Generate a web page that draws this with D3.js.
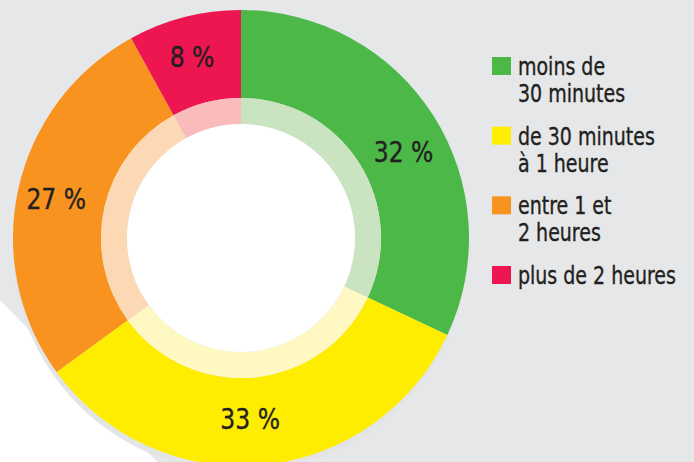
<!DOCTYPE html>
<html>
<head>
<meta charset="utf-8">
<script src="https://cdn.jsdelivr.net/npm/d3@7"></script>
<style>
  html, body { margin: 0; padding: 0; background: #e6e7e8; }
  svg { display: block; }
  text { font-family: "DejaVu Sans Condensed", "Liberation Sans Narrow", "Roboto", sans-serif; fill: #231f20; stroke: #231f20; stroke-width: 0.35px; }
</style>
</head>
<body>
<svg id="chart" width="694" height="462"></svg>
<script>
// ---- data ----
const categories = ["moins de 30 minutes", "de 30 minutes à 1 heure", "entre 1 et 2 heures", "plus de 2 heures"];
const legendLines = [["moins de", "30 minutes"], ["de 30 minutes", "à 1 heure"], ["entre 1 et", "2 heures"], ["plus de 2 heures"]];
const values = [32, 33, 27, 8];
const valueLabels = ["32 %", "33 %", "27 %", "8 %"];
const colors = ["#4cb848", "#ffed00", "#f7931e", "#ed1651"];
const lightColors = ["#cae4c2", "#fff8c2", "#fdd8b4", "#f9bbbb"];

// ---- layout ----
const W = 694, H = 462;
const cx = 241, cy = 238;
const R = 228, rRing = 140, rHole = 114;
const labelRadius = [184, 181, 189, 188];
const labelNudge = [4.5, 2.5, -0.5, -0.7]; // degrees

const svg = d3.select("#chart");

// white page area lower-left
svg.append("path")
  .attr("d", d3.line()([[0, 300], [330, 640], [0, 640]]) + "Z")
  .attr("fill", "#ffffff");

const g = svg.append("g").attr("transform", `translate(${cx},${cy})`);

// shadow
g.append("circle").attr("cx", -1).attr("cy", 6).attr("r", R).attr("fill", "#e3e4e6");

const pie = d3.pie().sort(null).value(d => d)(values);

const outerArc = d3.arc().innerRadius(rRing).outerRadius(R);
const ringArc = d3.arc().innerRadius(rHole).outerRadius(rRing);

g.selectAll("path.outer").data(pie).join("path")
  .attr("class", "outer")
  .attr("d", outerArc)
  .attr("fill", (d, i) => colors[i]);

g.selectAll("path.ring").data(pie).join("path")
  .attr("class", "ring")
  .attr("d", ringArc)
  .attr("fill", (d, i) => lightColors[i]);

g.append("circle").attr("r", rHole).attr("fill", "#ffffff");

// value labels
const midA = (d, i) => (d.startAngle + d.endAngle) / 2 + labelNudge[i] * Math.PI / 180;
g.selectAll("text.val").data(pie).join("text")
  .attr("class", "val")
  .attr("text-anchor", "middle")
  .attr("font-size", 29)
  .attr("dy", "0.36em")
  .attr("transform", (d, i) => `translate(${labelRadius[i] * Math.sin(midA(d, i))},${-labelRadius[i] * Math.cos(midA(d, i))}) scale(0.9,1)`)
  .text((d, i) => valueLabels[i]);

// legend
const legY = d3.scalePoint().domain(categories).range([57, 266]);
const leg = svg.append("g");
categories.forEach((c, i) => {
  const y0 = legY(c);
  leg.append("rect").attr("x", 492).attr("y", y0).attr("width", 19).attr("height", 18).attr("fill", colors[i]);
  const t = leg.append("text")
    .attr("transform", `translate(518,${y0 + 18}) scale(0.845,1)`)
    .attr("font-size", 25);
  legendLines[i].forEach((line, j) => {
    t.append("tspan").attr("x", 0).attr("y", j * 27).text(line);
  });
});
</script>
</body>
</html>
